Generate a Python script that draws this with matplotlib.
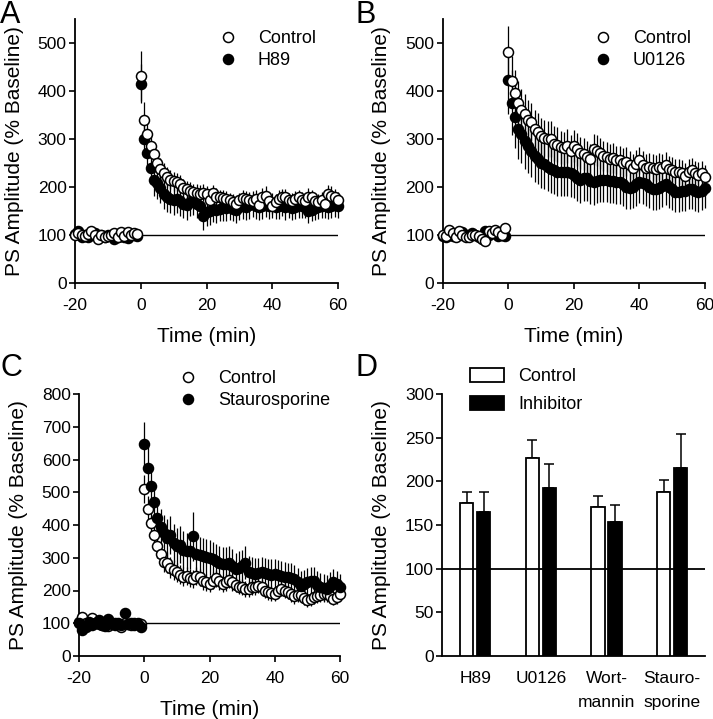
import numpy as np
import matplotlib
matplotlib.use("Agg")
from matplotlib import pyplot as plot

plot.rcParams['font.family'] = ['Liberation Sans', 'DejaVu Sans']
plot.rcParams['axes.unicode_minus'] = False

# ---------------- data ----------------
# time axis: baseline every 1 min (-20..-1), post-tetanus every 1 min (0..60)
tBase = list(range(-20, 0))
tPost = list(range(0, 61))

# panel A : control vs H89
aCtrlBase = [100, 104, 100, 98, 102, 108, 100, 92, 100, 96, 98, 100, 104, 95, 106, 98, 106, 100, 104, 102]
aCtrlPost = [430, 340, 310, 285, 268, 250, 238, 228, 220, 215,
             212, 210, 205, 198, 195, 192, 190, 188, 186, 188,
             185, 172, 188, 180, 178, 176, 175, 172, 168, 165,
             172, 176, 175, 172, 170, 175, 162, 180, 182, 170,
             160, 168, 175, 180, 178, 172, 170, 175, 178, 172,
             170, 180, 178, 170, 168, 172, 165, 185, 182, 178, 172]
aCtrlErrBase = [5, 6, 5, 7, 6, 5, 6, 7, 5, 6, 5, 6, 7, 5, 6, 5, 7, 6, 5, 6]
aCtrlErrPost = [52, 36, 30, 28, 26, 24, 22, 22, 21, 20,
                20, 19, 19, 18, 18, 18, 17, 17, 17, 18,
                17, 18, 16, 17, 16, 17, 16, 16, 17, 16,
                16, 18, 17, 16, 17, 18, 17, 18, 20, 17,
                16, 17, 18, 16, 17, 16, 18, 17, 16, 17,
                18, 17, 16, 17, 18, 17, 16, 18, 19, 18, 17]
aDrugBase = [103, 108, 96, 100, 95, 100, 104, 98, 100, 96, 100, 98, 92, 96, 100, 96, 94, 102, 100, 98]
aDrugPost = [415, 300, 270, 240, 215, 208, 198, 185, 178, 175,
             172, 175, 170, 165, 162, 168, 170, 165, 160, 140,
             148, 150, 155, 152, 155, 158, 156, 158, 155, 152,
             158, 160, 158, 162, 165, 160, 158, 160, 162, 160,
             162, 158, 160, 165, 158, 160, 156, 158, 162, 160,
             160, 150, 152, 156, 158, 160, 162, 158, 160, 162, 160]
aDrugErrBase = [7, 8, 6, 7, 8, 6, 7, 8, 7, 6, 7, 8, 6, 7, 8, 7, 6, 7, 8, 7]
aDrugErrPost = [40, 38, 36, 35, 34, 33, 32, 32, 31, 30,
                30, 30, 30, 29, 30, 29, 28, 29, 28, 30,
                30, 29, 28, 28, 27, 28, 27, 27, 26, 27,
                26, 27, 26, 28, 27, 26, 27, 26, 25, 26,
                26, 25, 26, 25, 26, 25, 24, 25, 26, 25,
                25, 26, 24, 25, 24, 25, 26, 25, 24, 25, 25]

# panel B : control vs U0126
bCtrlBase = [100, 98, 110, 105, 96, 108, 100, 95, 96, 100, 100, 98, 92, 88, 108, 104, 110, 106, 100, 114]
bCtrlPost = [480, 420, 395, 375, 360, 352, 340, 335, 320, 315,
             305, 302, 300, 300, 290, 288, 282, 280, 285, 275,
             285, 278, 270, 268, 262, 258, 278, 275, 270, 265,
             262, 258, 260, 256, 255, 250, 252, 245, 240, 248,
             255, 245, 240, 242, 240, 238, 242, 240, 245, 238,
             235, 232, 230, 228, 222, 232, 235, 228, 225, 228, 220]
bCtrlErrBase = [6, 5, 7, 6, 5, 6, 7, 5, 6, 7, 5, 6, 8, 7, 6, 5, 7, 6, 5, 8]
bCtrlErrPost = [55, 52, 48, 45, 44, 42, 41, 40, 40, 39,
                38, 38, 37, 37, 36, 36, 35, 35, 35, 34,
                34, 34, 33, 33, 33, 32, 32, 32, 32, 31,
                31, 31, 31, 30, 30, 30, 30, 30, 29, 29,
                29, 29, 29, 28, 28, 28, 28, 28, 28, 27,
                27, 27, 27, 27, 27, 26, 26, 26, 26, 26, 26]
bDrugBase = [98, 96, 100, 98, 102, 104, 106, 100, 98, 104, 100, 96, 98, 108, 100, 106, 108, 98, 100, 98]
bDrugPost = [422, 375, 345, 320, 310, 295, 285, 275, 265, 258,
             250, 248, 242, 238, 235, 232, 232, 230, 230, 228,
             225, 218, 215, 218, 218, 212, 210, 212, 215, 215,
             215, 212, 212, 210, 210, 205, 200, 198, 200, 205,
             210, 208, 205, 200, 195, 195, 198, 202, 205, 200,
             195, 190, 190, 192, 192, 195, 195, 192, 190, 192, 198]
bDrugErrBase = [7, 6, 8, 7, 6, 7, 8, 6, 7, 8, 6, 7, 8, 7, 6, 7, 8, 6, 7, 6]
bDrugErrPost = [70, 68, 65, 62, 60, 58, 56, 55, 54, 53,
                52, 52, 51, 51, 50, 50, 50, 49, 49, 49,
                48, 48, 48, 47, 47, 47, 47, 46, 46, 46,
                46, 46, 45, 45, 45, 45, 45, 44, 44, 44,
                44, 44, 44, 44, 43, 43, 43, 43, 43, 43,
                43, 42, 42, 42, 42, 42, 42, 42, 42, 41, 41]

# panel C : control vs staurosporine
cCtrlBase = [105, 118, 100, 95, 115, 100, 98, 95, 100, 92, 98, 100, 95, 90, 100, 98, 95, 100, 100, 98]
cCtrlPost = [510, 450, 405, 370, 335, 310, 288, 285, 270, 262,
             255, 248, 242, 245, 238, 235, 245, 240, 228, 225,
             220, 230, 238, 228, 220, 225, 232, 225, 218, 212,
             210, 205, 205, 210, 210, 215, 212, 200, 195, 192,
             190, 198, 205, 200, 195, 188, 182, 185, 185, 178,
             172, 175, 180, 182, 185, 188, 190, 182, 175, 180, 190]
cCtrlErrBase = [8, 10, 8, 7, 9, 8, 7, 8, 9, 7, 8, 9, 8, 7, 8, 9, 8, 7, 8, 9]
cCtrlErrPost = [42, 40, 38, 36, 35, 34, 33, 32, 31, 30,
                30, 29, 29, 28, 28, 28, 27, 27, 27, 26,
                26, 26, 26, 25, 25, 25, 25, 25, 24, 24,
                24, 24, 24, 24, 23, 23, 23, 23, 23, 23,
                22, 22, 22, 22, 22, 22, 22, 21, 21, 21,
                21, 21, 21, 21, 21, 20, 20, 20, 20, 20, 20]
cDrugBase = [100, 80, 90, 105, 95, 100, 110, 95, 92, 112, 100, 95, 100, 95, 130, 98, 100, 95, 98, 90]
cDrugPost = [648, 575, 520, 470, 420, 395, 375, 360, 370, 345,
             335, 340, 325, 322, 320, 365, 310, 308, 305, 302,
             300, 295, 290, 285, 280, 282, 285, 275, 265, 270,
             275, 285, 255, 252, 250, 252, 255, 252, 250, 248,
             250, 248, 245, 242, 240, 238, 235, 225, 215, 220,
             225, 228, 230, 218, 210, 208, 205, 215, 225, 220, 210]
cDrugErrBase = [10, 12, 10, 9, 11, 10, 12, 10, 9, 11, 10, 9, 10, 11, 14, 10, 9, 11, 10, 9]
cDrugErrPost = [68, 62, 58, 56, 55, 55, 56, 58, 58, 57,
                57, 56, 56, 55, 55, 75, 55, 55, 54, 54,
                54, 53, 53, 52, 52, 52, 51, 51, 50, 50,
                50, 50, 49, 49, 48, 48, 48, 47, 47, 47,
                46, 46, 46, 45, 45, 45, 44, 44, 44, 43,
                43, 43, 42, 42, 42, 42, 41, 41, 41, 40, 40]

# panel D : summary bars
groups = ['H89', 'U0126', 'Wort-\nmannin', 'Stauro-\nsporine']
ctrlMean = [175, 227, 171, 188]
ctrlSem = [13, 20, 12, 14]
inhMean = [165, 192, 153, 215]
inhSem = [23, 28, 20, 39]

baseLevel = 100


###############################################################
def TimePanel(ax, ctrl, drug, drugName, yMax, yTop, ctrlOnTop, legPos):
  t = np.array(tBase + tPost)

  ax.errorbar(t, drug[0], yerr=drug[1], fmt='none', ecolor='k',
              elinewidth=0.9, clip_on=False, zorder=2)
  ax.errorbar(t, ctrl[0], yerr=ctrl[1], fmt='none', ecolor='k',
              elinewidth=0.9, clip_on=False, zorder=2)

  zc, zd = (4, 3) if ctrlOnTop else (3, 4)
  ax.plot(t, ctrl[0], 'o', ms=7.2, mfc='white', mec='k', mew=1.1,
          clip_on=False, zorder=zc, label='Control')
  ax.plot(t, drug[0], 'o', ms=7.2, mfc='k', mec='k', mew=1.1,
          clip_on=False, zorder=zd, label=drugName)

  ax.hlines(baseLevel, 0, tPost[-1], color='k', lw=1.0, zorder=1)

  ax.set_xlim(-20, 60)
  ax.set_ylim(0, yTop)
  ax.set_xticks([-20, 0, 20, 40, 60])
  ax.set_yticks(np.arange(0, yMax + 1, 100))

  ax.set_xlabel('Time (min)', fontsize=15, labelpad=10)
  ax.set_ylabel('PS Amplitude (% Baseline)', fontsize=15, labelpad=10)

  handles, labels = ax.get_legend_handles_labels()
  ax.legend(handles, labels, loc='upper left', bbox_to_anchor=legPos,
            frameon=False, fontsize=13, borderpad=0, borderaxespad=0,
            handlelength=1.0, handletextpad=1.15, labelspacing=0.3,
            numpoints=1)

  Style(ax)


def Style(ax):
  for side in ('top', 'right'):
    ax.spines[side].set_visible(False)
  for side in ('left', 'bottom'):
    ax.spines[side].set_linewidth(1.3)
  ax.tick_params(direction='out', length=4, width=1.2, labelsize=12.5, pad=2)
  ax.tick_params(axis='x', pad=7)


###############################
if __name__ == "__main__":
  W, H = 713, 719
  fig = plot.figure(figsize=(W / 100, H / 100), dpi=100)

  def Axes(x0, x1, yTopPx, yBotPx):
    return fig.add_axes([x0 / W, 1 - yBotPx / H, (x1 - x0) / W, (yBotPx - yTopPx) / H])

  axA = Axes(75, 338, 18.7, 283)
  axB = Axes(442.7, 705, 18.7, 283)
  axC = Axes(79, 340, 394, 656)
  axD = Axes(442.3, 705, 394, 656)

  TimePanel(axA, (aCtrlBase + aCtrlPost, aCtrlErrBase + aCtrlErrPost),
            (aDrugBase + aDrugPost, aDrugErrBase + aDrugErrPost),
            'H89', 500, 550, True, (0.548, 0.957))
  TimePanel(axB, (bCtrlBase + bCtrlPost, bCtrlErrBase + bCtrlErrPost),
            (bDrugBase + bDrugPost, bDrugErrBase + bDrugErrPost),
            'U0126', 500, 550, True, (0.577, 0.957))
  TimePanel(axC, (cCtrlBase + cCtrlPost, cCtrlErrBase + cCtrlErrPost),
            (cDrugBase + cDrugPost, cDrugErrBase + cDrugErrPost),
            'Staurosporine', 800, 800, False, (0.383, 1.092))

  # summary bars
  x = np.arange(len(groups))
  off, wid = 0.13, 0.2
  axD.bar(x - off, ctrlMean, wid, color='white', edgecolor='k', lw=1.3,
          label='Control', zorder=3)
  axD.bar(x + off, inhMean, wid, color='k', edgecolor='k', lw=1.3,
          label='Inhibitor', zorder=3)
  axD.errorbar(x - off, ctrlMean, yerr=[[0] * len(groups), ctrlSem], fmt='none',
               ecolor='k', elinewidth=1.1, capsize=3.5, capthick=1.1, zorder=2)
  axD.errorbar(x + off, inhMean, yerr=[[0] * len(groups), inhSem], fmt='none',
               ecolor='k', elinewidth=1.1, capsize=3.5, capthick=1.1, zorder=2)
  axD.axhline(baseLevel, color='k', lw=1.3, zorder=4)
  axD.set_xlim(-0.5, 3.5)
  axD.set_ylim(0, 300)
  axD.set_yticks(np.arange(0, 301, 50))
  axD.set_xticks(x)
  axD.set_xticklabels(groups, linespacing=1.75)
  axD.set_ylabel('PS Amplitude (% Baseline)', fontsize=15, labelpad=10)
  axD.legend(loc='upper left', bbox_to_anchor=(0.105, 1.098), frameon=False,
             fontsize=13, borderpad=0, borderaxespad=0, handlelength=1.9,
             handleheight=0.78, handletextpad=0.78, labelspacing=0.6)
  Style(axD)
  axD.tick_params(axis='x', length=0, pad=11)

  for (lab, xf, yf) in (('A', 0, 1.0), ('B', 355, 1.0), ('C', 0, 1 - 353 / H), ('D', 355, 1 - 353 / H)):
    fig.text(xf / W, yf, lab, fontsize=22, ha='left', va='top')

  fig.savefig('out.png', dpi=100)
